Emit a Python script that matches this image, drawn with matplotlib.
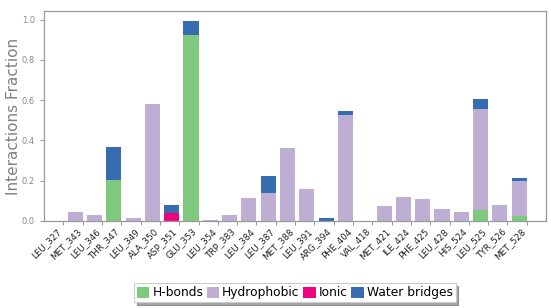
import numpy as np
import matplotlib
matplotlib.use("Agg")
import matplotlib.pyplot as plt
from matplotlib.patches import Patch

residues = ["LEU_327", "MET_343", "LEU_346", "THR_347", "LEU_349", "ALA_350", "ASP_351",
            "GLU_353", "LEU_354", "TRP_383", "LEU_384", "LEU_387", "MET_388", "LEU_391",
            "ARG_394", "PHE_404", "VAL_418", "MET_421", "ILE_424", "PHE_425", "LEU_428",
            "HIS_524", "LEU_525", "TYR_526", "MET_528"]
hbonds = [0, 0, 0, 0.204, 0, 0, 0, 0.924, 0, 0, 0, 0, 0, 0,
          0, 0, 0, 0, 0, 0, 0, 0, 0.053, 0, 0.025]
hydrophobic = [0, 0.045, 0.030, 0, 0.013, 0.580, 0, 0, 0.005, 0.030, 0.113, 0.139, 0.363, 0.161,
               0.002, 0.526, 0, 0.076, 0.119, 0.111, 0.060, 0.045, 0.505, 0.079, 0.172]
ionic = [0, 0, 0, 0, 0, 0, 0.041, 0, 0, 0, 0, 0, 0, 0,
         0, 0, 0, 0, 0, 0, 0, 0, 0, 0, 0]
water = [0, 0, 0, 0.165, 0, 0, 0.037, 0.068, 0, 0, 0, 0.083, 0, 0,
         0.014, 0.020, 0, 0, 0, 0, 0, 0, 0.048, 0, 0.017]

labels = ["H-bonds", "Hydrophobic", "Ionic", "Water bridges"]
colors = ["#7fc97f", "#beaed4", "#f0027f", "#386cb0"]

fig = plt.figure(figsize=(5.51, 3.08), dpi=100)
ax = fig.add_axes([0.080, 0.2825, 0.911, 0.6815])

x = np.arange(len(residues))
bottom = np.zeros(len(residues))
series = [hbonds, hydrophobic, ionic, water]
for vals, c in zip(series, colors):
    v = np.array(vals)
    ax.bar(x, v, width=-0.78, align="edge", bottom=bottom, color=c, linewidth=0)
    bottom += v

ax.set_xlim(-1, len(residues))
ax.set_ylim(0, 1.043)
ax.set_xticks(x)
ax.set_xticklabels(residues, rotation=45, ha="right", fontsize=6.3, color="#222222")
ax.set_yticks([0, 0.2, 0.4, 0.6, 0.8, 1.0])
ax.set_yticklabels(["0.0", "0.2", "0.4", "0.6", "0.8", "1.0"], fontsize=6, color="#888888")
ax.tick_params(axis="both", color="#888888", length=3, width=0.6)
ax.tick_params(axis="x", pad=1)
for s in ax.spines.values():
    s.set_color("#999999")
    s.set_linewidth(0.9)
ax.set_ylabel("Interactions Fraction", fontsize=11, color="#808080")
ax.yaxis.set_label_coords(-0.046, 0.5)

handles = [Patch(facecolor=c, edgecolor="none", label=l) for l, c in zip(labels, colors)]
leg = fig.legend(handles=handles, loc="center", bbox_to_anchor=(0.535, 0.049), ncol=4,
                 fontsize=8.8, frameon=True, shadow=True, fancybox=False,
                 handlelength=1.0, handleheight=1.0, handletextpad=0.25,
                 columnspacing=0.3, borderpad=0.25, borderaxespad=0)
leg.get_frame().set_edgecolor("#cccccc")
leg.get_frame().set_linewidth(0.8)

fig.savefig("out.png", dpi=100)
